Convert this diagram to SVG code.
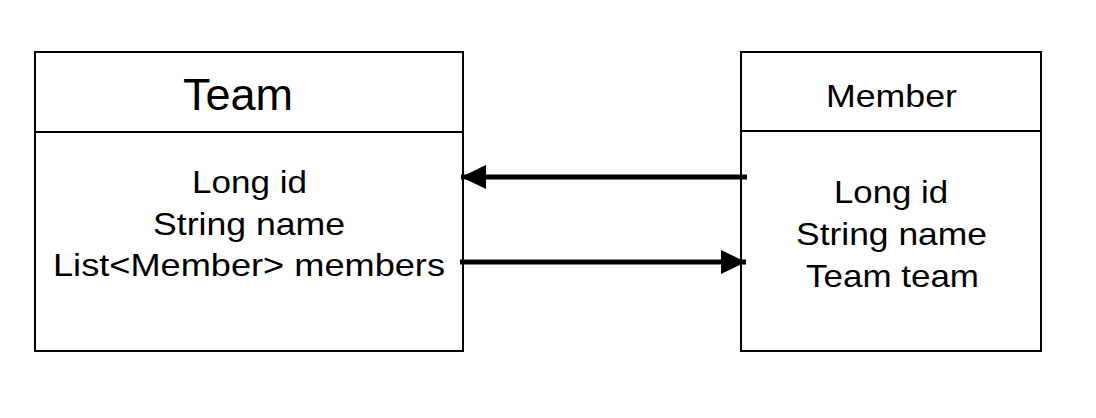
<svg xmlns="http://www.w3.org/2000/svg" width="1096" height="418" viewBox="0 0 1096 418">
<style>
.box{fill:#fff;stroke:#000;stroke-width:2}
.t{font-family:"Liberation Sans",Arial,sans-serif;fill:#000;text-anchor:middle}
.b{font-size:32px}
.c{stroke:#000;stroke-width:5;fill:none}
</style>
<defs>
<marker id="ah" markerUnits="userSpaceOnUse" markerWidth="26" markerHeight="26" refX="25" refY="13" orient="auto">
<path d="M0,1 L25,13 L0,25 Z" fill="#000"/>
</marker>
</defs>
<rect width="1096" height="418" fill="#fff"/>
<g id="team">
<rect class="box" x="35" y="52" width="428" height="299"/>
<line class="box" x1="35" y1="132" x2="463" y2="132"/>
<text class="t" x="238" y="110" font-size="45" textLength="110" lengthAdjust="spacingAndGlyphs">Team</text>
<text class="t b" x="249.5" y="193" textLength="115" lengthAdjust="spacingAndGlyphs">Long id</text>
<text class="t b" x="249" y="235" textLength="192" lengthAdjust="spacingAndGlyphs">String name</text>
<text class="t b" x="249" y="276" textLength="392" lengthAdjust="spacingAndGlyphs">List&lt;Member&gt; members</text>
</g>
<g id="member">
<rect class="box" x="741" y="52" width="300" height="299"/>
<line class="box" x1="741" y1="131" x2="1041" y2="131"/>
<text class="t" x="891.5" y="107" font-size="32" textLength="131" lengthAdjust="spacingAndGlyphs">Member</text>
<text class="t b" x="891" y="203" textLength="114" lengthAdjust="spacingAndGlyphs">Long id</text>
<text class="t b" x="891.5" y="245" textLength="191" lengthAdjust="spacingAndGlyphs">String name</text>
<text class="t b" x="892.5" y="287" textLength="173" lengthAdjust="spacingAndGlyphs">Team team</text>
</g>
<g id="connectors">
<line class="c" x1="747" y1="177" x2="461" y2="177" marker-end="url(#ah)"/>
<line class="c" x1="460" y1="262" x2="746" y2="262" marker-end="url(#ah)"/>
</g>
</svg>
